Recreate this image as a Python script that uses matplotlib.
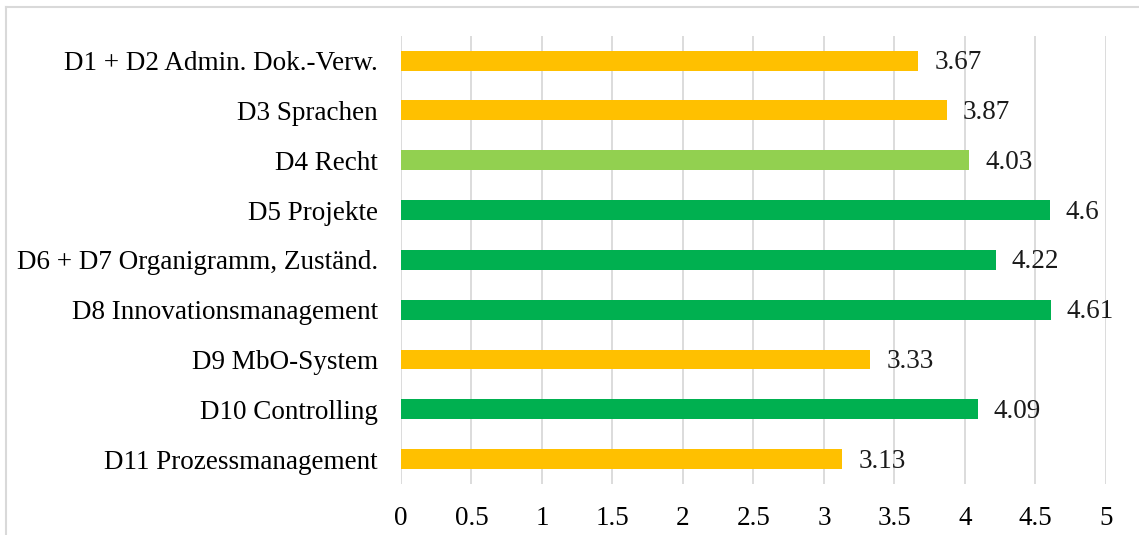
import matplotlib.pyplot as plt
from matplotlib.lines import Line2D

categories = [
    "D1 + D2 Admin. Dok.-Verw.",
    "D3 Sprachen",
    "D4 Recht",
    "D5 Projekte",
    "D6 + D7 Organigramm, Zuständ.",
    "D8 Innovationsmanagement",
    "D9 MbO-System",
    "D10 Controlling",
    "D11 Prozessmanagement",
]
scores = [3.67, 3.87, 4.03, 4.6, 4.22, 4.61, 3.33, 4.09, 3.13]
labels = ["3.67", "3.87", "4.03", "4.6", "4.22", "4.61", "3.33", "4.09", "3.13"]
bar_colors = ["#FFC000", "#FFC000", "#92D050", "#00B050", "#00B050",
              "#00B050", "#FFC000", "#00B050", "#FFC000"]
x_ticks = [0, 0.5, 1, 1.5, 2, 2.5, 3, 3.5, 4, 4.5, 5]
x_tick_labels = ["0", "0.5", "1", "1.5", "2", "2.5", "3", "3.5", "4", "4.5", "5"]

plt.rcParams["font.family"] = ["Liberation Serif", "DejaVu Serif"]
FS = 19.5

fig = plt.figure(figsize=(11.39, 5.35), dpi=100)
ax = fig.add_axes([0.352, 0.0953, 0.619, 0.838])

ypos = list(range(len(categories)))
ax.barh(ypos, scores, height=0.4, color=bar_colors, zorder=3)
for y, v, t in zip(ypos, scores, labels):
    ax.annotate(t, (v, y), xytext=(11.5, -1.5), textcoords="offset points",
                ha="left", va="center", fontsize=FS, color="#1a1a1a")

ax.set_xlim(0, 5)
ax.set_ylim(len(categories) - 0.5, -0.5)
ax.set_xticks(x_ticks)
ax.set_xticklabels(x_tick_labels, fontsize=FS)
ax.set_yticks(ypos)
ax.set_yticklabels(categories, fontsize=FS)
ax.tick_params(length=0)
ax.tick_params(axis="x", pad=15.5)
ax.tick_params(axis="y", pad=16.5)
ax.grid(axis="x", color="#D9D9D9", linewidth=1.3, zorder=0)
for s in ax.spines.values():
    s.set_visible(False)

# light frame along the top and left edges
x0, y0 = 5.5 / 1139, 1 - 7 / 535
fig.add_artist(Line2D([x0, 1], [y0, y0], transform=fig.transFigure,
                      color="#D9D9D9", linewidth=1.5))
fig.add_artist(Line2D([x0, x0], [0, y0], transform=fig.transFigure,
                      color="#D9D9D9", linewidth=1.5))

fig.savefig("out.png", dpi=100)
